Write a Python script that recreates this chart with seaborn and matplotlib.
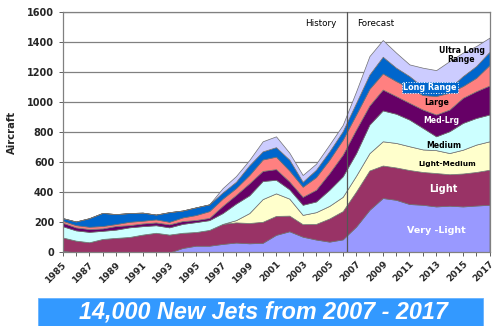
import numpy as np
import pandas as pd
import matplotlib
matplotlib.use("Agg")
import matplotlib.pyplot as plt
import seaborn as sns

years = list(range(1985, 2018))

very_light = [12, 0, 0, 0, 0, 0, 0, 0, 0, 30, 45, 45,
              57, 66, 61, 64, 117, 141, 105,
              86, 72, 87, 172, 283, 362,
              350, 322, 317, 306, 311, 306, 312, 317]
light = [88, 79, 68, 90, 97, 103, 119, 131, 119, 101, 91, 105,
         133, 134, 135, 140, 126, 104, 83,
         104, 154, 188, 233, 262, 216,
         215, 226, 218, 222, 209, 219, 223, 233]
light_medium = [0, 0, 0, 0, 0, 0, 0, 0, 0, 0, 0, 0,
                0, 15, 66, 151, 150, 113, 62,
                78, 84, 95, 105, 115, 161,
                163, 158, 150, 152, 141, 158, 182, 189]
medium = [75, 68, 69, 54, 55, 64, 56, 50, 48, 59, 66, 65,
          72, 110, 118, 120, 90, 62, 67,
          71, 107, 136, 150, 190, 205,
          194, 177, 143, 92, 145, 178, 177, 178]
med_lrg = [23, 20, 19, 16, 24, 15, 18, 19, 20, 19, 14, 15,
           48, 58, 80, 67, 71, 52, 53,
           78, 111, 144, 157, 127, 139,
           117, 111, 122, 145, 144, 167, 178, 193]
large = [13, 15, 15, 16, 13, 22, 18, 20, 17, 24, 33, 45,
         48, 45, 55, 76, 83, 73, 67,
         84, 89, 100, 100, 111, 107,
         100, 100, 96, 123, 112, 78, 89, 136]
long_range = [18, 24, 57, 87, 66, 58, 54, 32, 64, 46, 51, 45,
              41, 42, 65, 54, 63, 72, 33,
              49, 55, 56, 77, 95, 111,
              89, 78, 55, 21, 32, 66, 78, 88]
ultra_long = [0, 0, 0, 0, 0, 0, 0, 0, 0, 0, 0, 0,
              29, 38, 35, 67, 72, 46, 45,
              40, 45, 42, 76, 122, 111,
              100, 78, 127, 151, 178, 156, 133, 94]

series_names = ["Very -Light", "Light", "Light-Medium", "Medium", "Med-Lrg",
                "Large", "Long Range", "Ultra Long Range"]
colors = ["#9999FF", "#993366", "#FFFFCC", "#CCFFFF", "#660066",
          "#FF8080", "#0066CC", "#CCCCFF"]

df = pd.DataFrame({"year": years, "Very -Light": very_light, "Light": light,
                   "Light-Medium": light_medium, "Medium": medium,
                   "Med-Lrg": med_lrg, "Large": large,
                   "Long Range": long_range, "Ultra Long Range": ultra_long})

sns.set_theme(style="white")
plt.rcParams["font.family"] = ["DejaVu Sans"]

fig = plt.figure(figsize=(5.0, 3.26), dpi=100)
ax = fig.add_axes([0.125, 0.2255, 0.854, 0.7385])

ax.stackplot(df["year"], *[df[n] for n in series_names], colors=colors,
             edgecolor="#707070", linewidth=0.5, zorder=2)

ax.set_xlim(1985, 2017)
ax.set_ylim(0, 1600)
ax.set_yticks(range(0, 1601, 200))
ax.yaxis.grid(True, color="#808080", linewidth=0.9, zorder=0)
ax.set_axisbelow(True)

ax.set_xticks(range(1985, 2018, 2))
ax.set_xticks(years, minor=True)
ax.set_xticklabels([str(y) for y in range(1985, 2018, 2)], rotation=45,
                   ha="right", rotation_mode="anchor", fontweight="bold",
                   fontsize=6.6)
for lab in ax.get_yticklabels():
    lab.set_fontweight("bold")
    lab.set_fontsize(7.0)
ax.tick_params(axis="x", which="both", direction="out", length=3, width=0.7,
               color="#606060", pad=2, bottom=True)
ax.tick_params(axis="y", which="both", direction="out", length=3, width=0.7,
               color="#606060", pad=3, left=True)
for s in ax.spines.values():
    s.set_color("#808080")
    s.set_linewidth(0.9)

ax.set_ylabel("Aircraft", fontweight="bold", fontsize=7.2, labelpad=7)

# history / forecast divider
ax.axvline(2006.3, color="#555555", linewidth=0.9, zorder=3)
ax.text(2005.5, 1525, "History", ha="right", va="center", fontsize=6.3,
        color="black")
ax.text(2007.1, 1525, "Forecast", ha="left", va="center", fontsize=6.3,
        color="black")

lbl = dict(ha="center", va="center", fontweight="bold", zorder=5)
ax.text(2014.9, 1310, "Ultra Long\nRange", fontsize=5.6, color="black",
        linespacing=1.0, **lbl)
ax.text(2012.55, 1095, "Long Range", fontsize=5.8, color="white",
        bbox=dict(boxstyle="square,pad=0.15", facecolor="#0066CC",
                  edgecolor="white", linestyle=":", linewidth=0.7), **lbl)
ax.text(2013.05, 999, "Large", fontsize=5.6, color="black", **lbl)
ax.text(2013.4, 879, "Med-Lrg", fontsize=5.6, color="white", **lbl)
ax.text(2013.6, 710, "Medium", fontsize=5.6, color="black", **lbl)
ax.text(2013.8, 588, "Light-Medium", fontsize=5.3, color="black", **lbl)
ax.text(2013.55, 421, "Light", fontsize=7.0, color="white", **lbl)
ax.text(2013.0, 143, "Very -Light", fontsize=6.8, color="white", **lbl)

# bottom banner
banner = plt.Rectangle((38 / 500, 0), (483 - 38) / 500, (326 - 298) / 326,
                       transform=fig.transFigure, facecolor="#3399FF",
                       edgecolor="#66B2FF", linewidth=0.6, zorder=1)
fig.patches.append(banner)
fig.text(263 / 500, 1 - 312.5 / 326, "14,000 New Jets from 2007 - 2017",
         ha="center", va="center", color="white", fontsize=16.8,
         fontweight="bold", fontstyle="italic",
         family=["Liberation Sans", "DejaVu Sans"])

fig.savefig("out.png", dpi=100, facecolor="white")
